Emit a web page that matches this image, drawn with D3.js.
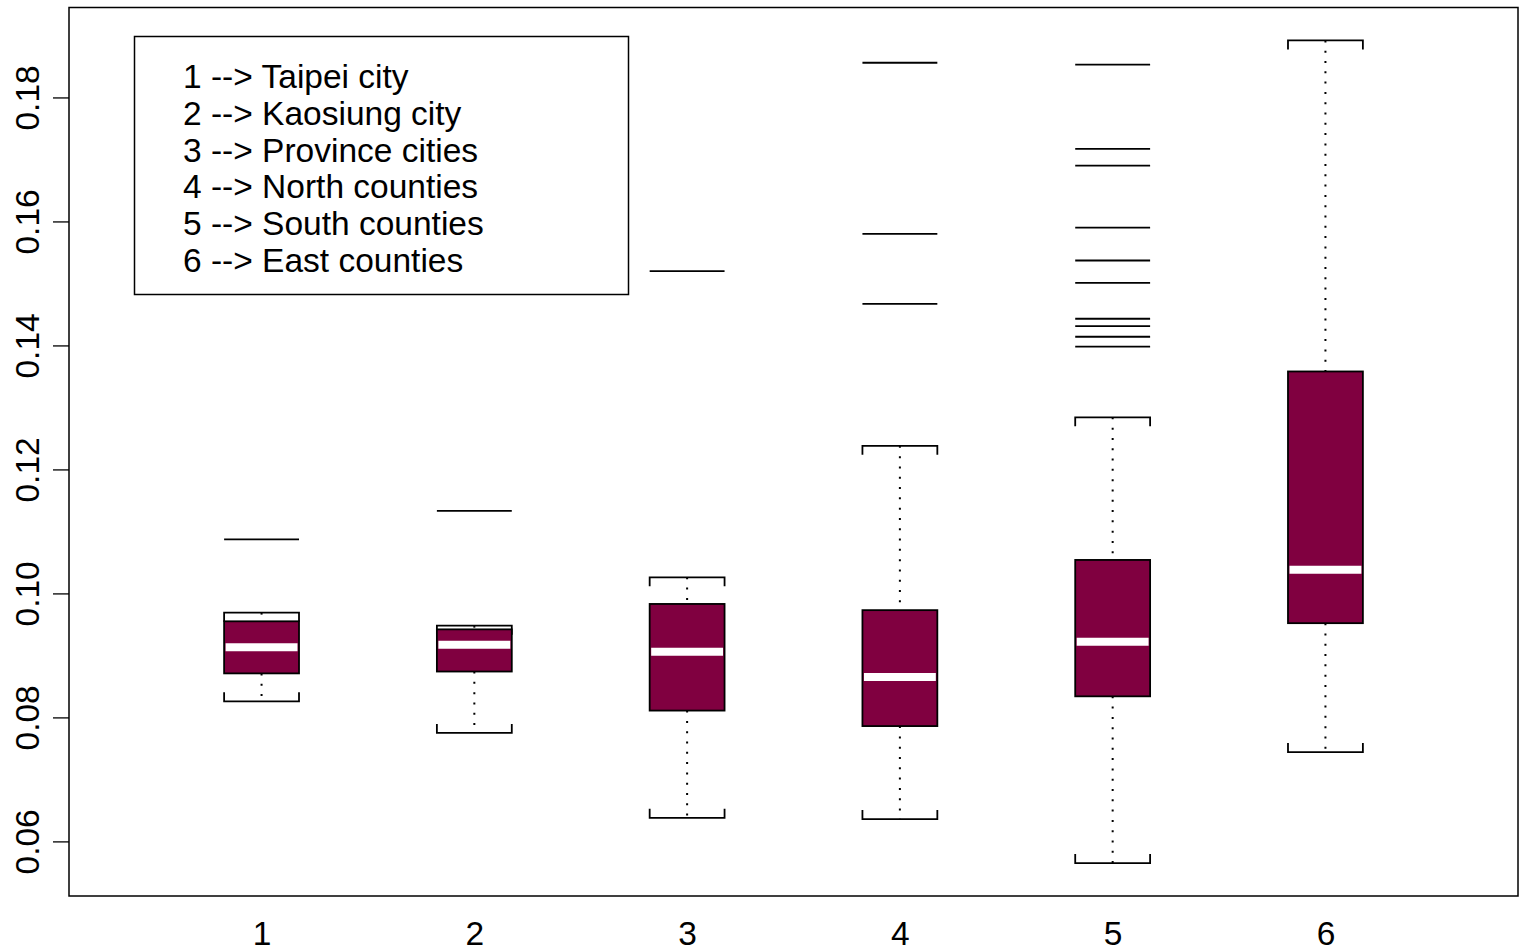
<!DOCTYPE html>
<html>
<head>
<meta charset="utf-8">
<script src="https://cdn.jsdelivr.net/npm/d3@7"></script>
<style>
  html, body { margin: 0; padding: 0; background: #fff; }
  svg { display: block; font-family: "Liberation Sans", Arial, Helvetica, sans-serif; }
</style>
</head>
<body>
<svg id="chart" width="1522" height="952"></svg>
<script>
// Region groups and their summary statistics
const groups = [1, 2, 3, 4, 5, 6];
const legendLabels = [
  "1 --> Taipei city",
  "2 --> Kaosiung city",
  "3 --> Province cities",
  "4 --> North counties",
  "5 --> South counties",
  "6 --> East counties"
];
const lowerWhisker = [0.0826, 0.0775, 0.0638, 0.0636, 0.0565, 0.0744];
const q1           = [0.0871, 0.0874, 0.0811, 0.0786, 0.0834, 0.0952];
const median       = [0.0913, 0.0917, 0.0906, 0.0865, 0.0922, 0.1038];
const q3           = [0.0955, 0.0942, 0.0983, 0.0973, 0.1054, 0.1358];
const upperWhisker = [0.0969, 0.0948, 0.1026, 0.1238, 0.1284, 0.1892];
const outliers = [
  [0.1087],
  [0.1133],
  [0.1520],
  [0.1856, 0.1580, 0.1467],
  [0.1853, 0.1717, 0.1690, 0.1590, 0.1537, 0.1501, 0.1443, 0.1431, 0.1414, 0.1398],
  []
];
const yTicks = [0.06, 0.08, 0.10, 0.12, 0.14, 0.16, 0.18];

const boxFill = "#800040";
const plot = { left: 69, right: 1518, top: 7.5, bottom: 896 };
const fontSize = 33.5;

const svg = d3.select("#chart");

// y range: data extent padded by 4% on each side
const allVals = [...lowerWhisker, ...upperWhisker, ...outliers.flat()];
const yMin = d3.min(allVals), yMax = d3.max(allVals);
const pad = (yMax - yMin) * 0.04;
const y = d3.scaleLinear().domain([yMin - pad, yMax + pad]).range([plot.bottom, plot.top]);
const x = d3.scaleLinear().domain([0.095, 6.905]).range([plot.left, plot.right]);
const halfW = 0.176; // half box width in group units
const tickLen = 9;    // staple end tick length in px

const data = groups.map((g, i) => ({
  g, lo: lowerWhisker[i], q1: q1[i], med: median[i], q3: q3[i], hi: upperWhisker[i], out: outliers[i]
}));

const g = svg.append("g");

data.forEach(d => {
  const xl = x(d.g - halfW), xr = x(d.g + halfW), xc = x(d.g);

  // dotted whiskers
  g.append("line").attr("x1", xc).attr("x2", xc).attr("y1", y(d.hi)).attr("y2", y(d.q3))
    .attr("stroke", "#000").attr("stroke-width", 2).attr("stroke-dasharray", "2 8.3");
  g.append("line").attr("x1", xc).attr("x2", xc).attr("y1", y(d.q1)).attr("y2", y(d.lo))
    .attr("stroke", "#000").attr("stroke-width", 2).attr("stroke-dasharray", "2 8.3");

  // bracket-shaped staples
  const upY = y(d.hi), loY = y(d.lo);
  g.append("path")
    .attr("d", `M${xl},${upY + tickLen}V${upY}H${xr}V${upY + tickLen}`)
    .attr("fill", "none").attr("stroke", "#000").attr("stroke-width", 1.8);
  g.append("path")
    .attr("d", `M${xl},${loY - tickLen}V${loY}H${xr}V${loY - tickLen}`)
    .attr("fill", "none").attr("stroke", "#000").attr("stroke-width", 1.8);

  // box
  g.append("rect")
    .attr("x", xl).attr("width", xr - xl)
    .attr("y", y(d.q3)).attr("height", y(d.q1) - y(d.q3))
    .attr("fill", boxFill).attr("stroke", "#000").attr("stroke-width", 1.8);

  // median
  g.append("line").attr("x1", xl + 1.5).attr("x2", xr - 1.5)
    .attr("y1", y(d.med)).attr("y2", y(d.med))
    .attr("stroke", "#fff").attr("stroke-width", 8);

  // outliers drawn as horizontal segments
  d.out.forEach(v => {
    g.append("line").attr("x1", xl).attr("x2", xr).attr("y1", y(v)).attr("y2", y(v))
      .attr("stroke", "#000").attr("stroke-width", 1.8);
  });
});

// frame
svg.append("rect")
  .attr("x", plot.left).attr("y", plot.top)
  .attr("width", plot.right - plot.left).attr("height", plot.bottom - plot.top)
  .attr("fill", "none").attr("stroke", "#000").attr("stroke-width", 1.5);

// y axis
const yAxis = d3.axisLeft(y).tickValues(yTicks).tickFormat(d3.format(".2f")).tickSize(16).tickPadding(0);
const ya = svg.append("g").attr("transform", `translate(${plot.left},0)`).call(yAxis);
ya.select(".domain").remove();
ya.selectAll(".tick line").attr("stroke", "#000").attr("stroke-width", 1.3);
ya.selectAll(".tick text")
  .attr("x", 0).attr("dy", null).attr("y", 0)
  .attr("text-anchor", "middle")
  .attr("transform", `translate(${39 - plot.left},0) rotate(-90)`)
  .attr("font-size", fontSize).attr("fill", "#000")
  .style("font-family", "'Liberation Sans', Arial, sans-serif");

// x axis labels (no ticks)
const xAxis = d3.axisBottom(x).tickValues(groups).tickFormat(d3.format("d")).tickSize(0).tickPadding(0);
const xa = svg.append("g").attr("transform", `translate(0,${plot.bottom})`).call(xAxis);
xa.select(".domain").remove();
xa.selectAll(".tick text")
  .attr("y", 49).attr("dy", null)
  .attr("font-size", fontSize).attr("fill", "#000")
  .style("font-family", "'Liberation Sans', Arial, sans-serif");

// legend
const leg = svg.append("g");
leg.append("rect").attr("x", 134.5).attr("y", 36.5).attr("width", 494).attr("height", 258)
  .attr("fill", "#fff").attr("stroke", "#000").attr("stroke-width", 1.5);
leg.selectAll("text").data(legendLabels).join("text")
  .attr("x", 183).attr("y", (d, i) => 88 + i * 36.8)
  .attr("font-size", fontSize).attr("fill", "#000")
  .text(d => d);
</script>
</body>
</html>
